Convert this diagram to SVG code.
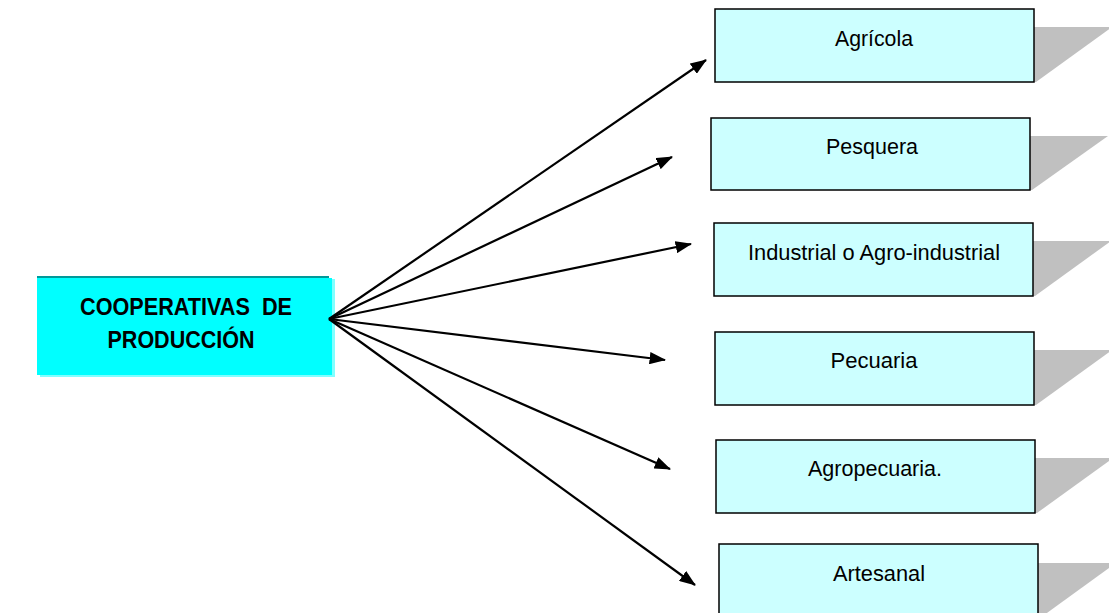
<svg xmlns="http://www.w3.org/2000/svg" width="1109" height="613" viewBox="0 0 1109 613">
  <style>
    .box { fill: #CCFFFF; stroke: #000; stroke-width: 1.5; }
    .shadow { fill: #C0C0C0; }
    .lbl { font-family: "Liberation Sans", Arial, sans-serif; font-size: 22px; fill: #000; text-anchor: middle; }
    .main { font-family: "Liberation Sans", Arial, sans-serif; font-size: 24px; font-weight: bold; fill: #000; text-anchor: middle; }
    .conn { stroke: #000; stroke-width: 2.2; fill: none; marker-end: url(#arrow); }
  </style>
  <defs>
    <marker id="arrow" viewBox="0 0 16 12" refX="15" refY="6" markerWidth="7.5" markerHeight="5.6" markerUnits="strokeWidth" orient="auto">
      <path d="M0,0 L16,6 L0,12 z" fill="#000"/>
    </marker>
  </defs>
  <rect width="1109" height="613" fill="#fff"/>

  <!-- central node -->
  <g id="cooperativas">
    <rect x="40" y="279" width="295" height="98" fill="#80FFFF"/>
    <rect x="37" y="278" width="295" height="97" fill="#00FFFF"/>
    <rect x="37" y="276" width="292" height="2" fill="#009999"/>
    <text class="main" x="186" y="315" textLength="212" lengthAdjust="spacingAndGlyphs">COOPERATIVAS&#160; DE</text>
    <text class="main" x="181" y="348" textLength="147" lengthAdjust="spacingAndGlyphs">PRODUCCIÓN</text>
  </g>

  <!-- connectors -->
  <g id="connectors">
    <line class="conn" x1="329" y1="319" x2="706" y2="60"/>
    <line class="conn" x1="329" y1="319" x2="672" y2="157"/>
    <line class="conn" x1="329" y1="319" x2="691" y2="244"/>
    <line class="conn" x1="329" y1="319" x2="665" y2="360"/>
    <line class="conn" x1="329" y1="319" x2="670" y2="469"/>
    <line class="conn" x1="329" y1="319" x2="695" y2="585"/>
  </g>

  <!-- category nodes -->
  <g id="agricola">
    <polygon class="shadow" points="1034,27 1112,27 1036,82 1034,82"/>
    <rect class="box" x="715" y="9" width="319" height="73"/>
    <text class="lbl" x="874" y="46" textLength="78" lengthAdjust="spacingAndGlyphs">Agrícola</text>
  </g>
  <g id="pesquera">
    <polygon class="shadow" points="1030,136 1108,136 1032,190 1030,190"/>
    <rect class="box" x="711" y="118" width="319" height="72"/>
    <text class="lbl" x="872" y="154" textLength="92" lengthAdjust="spacingAndGlyphs">Pesquera</text>
  </g>
  <g id="industrial">
    <polygon class="shadow" points="1033,241 1111,241 1035,296 1033,296"/>
    <rect class="box" x="714" y="223" width="319" height="73"/>
    <text class="lbl" x="874" y="260" textLength="252" lengthAdjust="spacingAndGlyphs">Industrial o Agro-industrial</text>
  </g>
  <g id="pecuaria">
    <polygon class="shadow" points="1034,350 1112,350 1036,405 1034,405"/>
    <rect class="box" x="715" y="332" width="319" height="73"/>
    <text class="lbl" x="874" y="368" textLength="87" lengthAdjust="spacingAndGlyphs">Pecuaria</text>
  </g>
  <g id="agropecuaria">
    <polygon class="shadow" points="1035,458 1113,458 1037,513 1035,513"/>
    <rect class="box" x="716" y="440" width="319" height="73"/>
    <text class="lbl" x="875" y="476" textLength="134" lengthAdjust="spacingAndGlyphs">Agropecuaria.</text>
  </g>
  <g id="artesanal">
    <polygon class="shadow" points="1038,563 1116,563 1040,618 1038,618"/>
    <rect class="box" x="719" y="544" width="319" height="73"/>
    <text class="lbl" x="879" y="581" textLength="92" lengthAdjust="spacingAndGlyphs">Artesanal</text>
  </g>
</svg>
